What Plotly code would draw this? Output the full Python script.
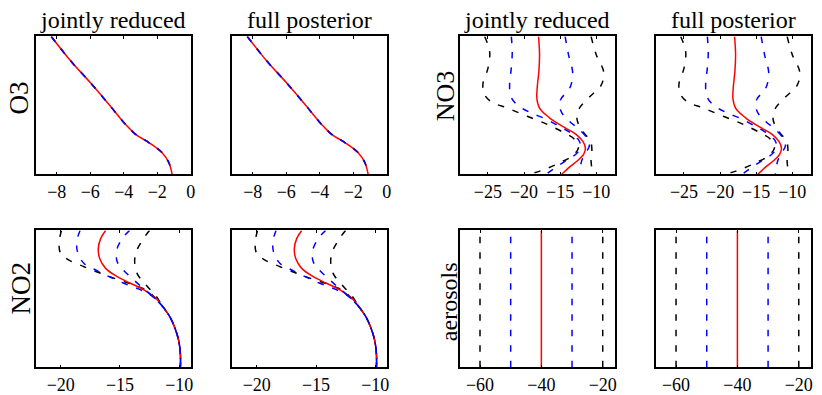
import plotly.graph_objects as go

# ---------------- data ----------------
# normalised altitude runs 0 (bottom) .. 1 (top)

# O3: mean and both bands collapse onto one profile
o3_height = [1.0, 0.82, 0.66, 0.49, 0.36, 0.29, 0.23, 0.157, 0.086, 0.0]
o3_mean = [-8.33, -7.15, -5.96, -4.77, -3.88, -3.29, -2.5, -1.71, -1.31, -1.11]

# NO3 profiles
no3_mean_h = [1.0, 0.87, 0.75, 0.63, 0.55, 0.48, 0.41, 0.34, 0.29, 0.24, 0.19, 0.147, 0.10, 0.052, 0.0]
no3_mean_x = [-17.99, -17.85, -17.94, -18.17, -18.22, -17.85, -16.47, -14.40, -12.79, -11.87, -11.5, -11.73, -12.56, -13.71, -14.77]

no3_lo1_h = [1.0, 0.89, 0.77, 0.66, 0.57, 0.51, 0.45, 0.40, 0.34, 0.29, 0.24, 0.19, 0.147, 0.10, 0.052, 0.0]
no3_lo1_x = [-21.76, -21.63, -21.76, -21.99, -21.86, -21.08, -19.23, -16.93, -14.86, -13.25, -12.33, -12.19, -12.79, -14.17, -15.55, -16.93]

no3_hi1_h = [1.0, 0.87, 0.73, 0.62, 0.54, 0.455, 0.384, 0.325, 0.254, 0.206, 0.159, 0.10, 0.0]
no3_hi1_x = [-14.31, -13.85, -13.25, -13.71, -14.95, -14.86, -13.71, -12.33, -11.18, -10.95, -11.41, -12.0, -12.33]

no3_lo2_h = [1.0, 0.89, 0.77, 0.66, 0.585, 0.526, 0.479, 0.419, 0.360, 0.30, 0.254, 0.194, 0.135, 0.088, 0.04, 0.0]
no3_lo2_x = [-25.45, -24.76, -24.99, -25.68, -25.54, -24.53, -22.22, -19.46, -16.70, -14.40, -13.02, -12.46, -13.25, -14.86, -16.93, -19.23]

no3_hi2_h = [1.0, 0.87, 0.74, 0.645, 0.56, 0.479, 0.396, 0.313, 0.24, 0.18, 0.12, 0.06, 0.0]
no3_hi2_x = [-10.71, -10.02, -8.96, -9.33, -10.94, -12.33, -12.65, -11.87, -10.8, -10.6, -10.72, -10.65, -10.4]

# NO2 profiles: all curves share the lower part
no2_tail_h = [0.434, 0.361, 0.277, 0.193, 0.096, 0.0]
no2_tail_x = [-11.3, -10.74, -10.32, -10.04, -9.9, -9.9]

no2_mean_h = [1.0, 0.94, 0.867, 0.795, 0.723, 0.663, 0.614, 0.566, 0.506]
no2_mean_x = [-16.21, -16.63, -16.83, -16.71, -16.21, -15.23, -14.11, -12.98, -12.0]

no2_lo1_h = [1.0, 0.916, 0.831, 0.759, 0.711, 0.663, 0.614, 0.571, 0.53]
no2_lo1_x = [-18.37, -18.65, -18.54, -18.03, -17.05, -15.93, -14.67, -13.4, -12.42]

no2_hi1_h = [1.0, 0.94, 0.855, 0.771, 0.711, 0.65, 0.59, 0.542]
no2_hi1_x = [-14.19, -14.81, -15.28, -15.23, -14.72, -13.97, -13.21, -12.56]

no2_lo2_h = [1.0, 0.904, 0.831, 0.783, 0.735, 0.687, 0.643, 0.602, 0.559]
no2_lo2_x = [-19.94, -20.14, -20.0, -19.3, -18.03, -16.63, -15.23, -13.83, -12.7]

no2_hi2_h = [1.0, 0.928, 0.831, 0.747, 0.675, 0.627, 0.578, 0.542]
no2_hi2_x = [-12.51, -13.12, -13.68, -13.74, -13.49, -13.04, -12.56, -12.14]

# aerosols: constant with altitude
aer_height = [0.0, 1.0]
aer_mean = -40
aer_lo1, aer_hi1 = -50, -30
aer_lo2, aer_hi2 = -60, -20

col_titles = ["jointly reduced", "full posterior", "jointly reduced", "full posterior"]

x_ranges = {
    "O3": [-9.25, 0.02],
    "NO3": [-28.9, -7.4],
    "NO2": [-22.1, -9.0],
    "aerosols": [-66.6, -16.0],
}
x_ticks = {
    "O3": [-8, -6, -4, -2, 0],
    "NO3": [-25, -20, -15, -10],
    "NO2": [-20, -15, -10],
    "aerosols": [-60, -40, -20],
}

# ---------------- layout geometry ----------------
W, H = 822, 395
col_px = [(36, 192), (233, 389), (462, 618), (659, 815)]
row_px = [(37, 177), (234, 373)]

RED, BLUE, BLACK = "#ff0000", "#0000ff", "#000000"
DASH = "6.5px,9px"
SERIF = "Liberation Serif"

fig = go.Figure()


def axis_id(r, c):
    return (r - 1) * 4 + c


def add_curve(n, xs, ys, color, dashed):
    suffix = "" if n == 1 else str(n)
    fig.add_trace(go.Scatter(
        x=xs, y=ys, mode="lines",
        line=dict(color=color, width=1.5, dash=DASH if dashed else "solid",
                  shape="spline", smoothing=1.0),
        xaxis="x" + suffix, yaxis="y" + suffix,
        showlegend=False, hoverinfo="skip"))


panels = {}
for c in (1, 2):
    panels[(1, c)] = "O3"
    panels[(2, c)] = "NO2"
for c in (3, 4):
    panels[(1, c)] = "NO3"
    panels[(2, c)] = "aerosols"

for (r, c), name in panels.items():
    n = axis_id(r, c)
    if name == "O3":
        add_curve(n, o3_mean, o3_height, BLACK, True)
        add_curve(n, o3_mean, o3_height, RED, False)
        add_curve(n, o3_mean, o3_height, BLUE, True)
    elif name == "NO3":
        add_curve(n, no3_lo2_x, no3_lo2_h, BLACK, True)
        add_curve(n, no3_hi2_x, no3_hi2_h, BLACK, True)
        add_curve(n, no3_mean_x, no3_mean_h, RED, False)
        add_curve(n, no3_lo1_x, no3_lo1_h, BLUE, True)
        add_curve(n, no3_hi1_x, no3_hi1_h, BLUE, True)
    elif name == "NO2":
        add_curve(n, no2_lo2_x + no2_tail_x, no2_lo2_h + no2_tail_h, BLACK, True)
        add_curve(n, no2_hi2_x + no2_tail_x, no2_hi2_h + no2_tail_h, BLACK, True)
        add_curve(n, no2_mean_x + no2_tail_x, no2_mean_h + no2_tail_h, RED, False)
        add_curve(n, no2_lo1_x + no2_tail_x, no2_lo1_h + no2_tail_h, BLUE, True)
        add_curve(n, no2_hi1_x + no2_tail_x, no2_hi1_h + no2_tail_h, BLUE, True)
    else:
        for v, colr, d in [(aer_lo2, BLACK, True), (aer_hi2, BLACK, True),
                           (aer_mean, RED, False),
                           (aer_lo1, BLUE, True), (aer_hi1, BLUE, True)]:
            add_curve(n, [v] * len(aer_height), aer_height, colr, d)

    suffix = "" if n == 1 else str(n)
    x0, x1 = col_px[c - 1]
    y0, y1 = row_px[r - 1]
    fig.layout["xaxis" + suffix] = dict(
        domain=[x0 / W, x1 / W], anchor="y" + suffix,
        range=x_ranges[name], tickvals=x_ticks[name],
        ticks="inside", ticklen=3, tickwidth=1, tickcolor="black",
        showline=True, linecolor="black", linewidth=1.5, mirror="ticks",
        showgrid=False, zeroline=False,
        tickfont=dict(family=SERIF, size=18, color="black"),
    )
    fig.layout["yaxis" + suffix] = dict(
        domain=[1 - y1 / H, 1 - y0 / H], anchor="x" + suffix,
        range=[0, 1], showticklabels=False, ticks="",
        showline=True, linecolor="black", linewidth=1.5, mirror=True,
        showgrid=False, zeroline=False,
    )

annotations = []
for c, t in enumerate(col_titles):
    x0, x1 = col_px[c]
    annotations.append(dict(
        text=t, x=(x0 + x1) / 2 / W, y=1 - 20.5 / H, xref="paper", yref="paper",
        xanchor="center", yanchor="middle", showarrow=False,
        font=dict(family=SERIF, size=24, color="black")))

# row labels: (text, centre x px, centre y px, font size)
row_labels = [("O3", 20, 99, 27), ("NO3", 448, 97, 26),
              ("NO2", 21, 292, 27), ("aerosols", 452, 306, 24)]
for t, px, py, fs in row_labels:
    annotations.append(dict(
        text=t, x=px / W, y=1 - py / H, xref="paper", yref="paper",
        xanchor="center", yanchor="middle", textangle=-90, showarrow=False,
        font=dict(family=SERIF, size=fs, color="black")))

fig.update_layout(
    width=W, height=H, margin=dict(l=0, r=0, t=0, b=0),
    paper_bgcolor="white", plot_bgcolor="white",
    annotations=annotations, showlegend=False,
)

fig.write_html("out.html")
